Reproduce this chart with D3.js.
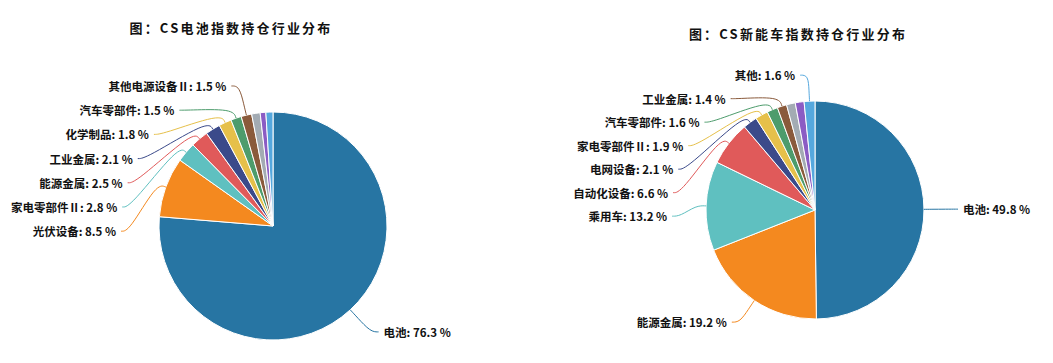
<!DOCTYPE html>
<html>
<head>
<meta charset="utf-8">
<script src="https://cdn.jsdelivr.net/npm/d3@7"></script>
<style>
  html, body { margin: 0; padding: 0; background: #fff; }
  svg { display: block; }
  text { font-family: "Noto Sans CJK SC", "Noto Sans", sans-serif; fill: #111; }
</style>
</head>
<body>
<svg id="chart" width="1053" height="363"></svg>
<script>
// Slice colours, in slice order (clockwise from 12 o'clock)
const sliceColors = ["#2775a3", "#f4891f", "#5fc0c0", "#e05a5a", "#3b4a8a", "#e6c04a",
                     "#4d9c6c", "#8a5a3b", "#a3abb3", "#8b5cc4", "#55a8de"];

// CS 电池指数 holdings by industry (%); null = small slice drawn without a label
const batteryTitle = "图：CS电池指数持仓行业分布";
const batteryNames = ["电池", "光伏设备", "家电零部件Ⅱ", "能源金属", "工业金属", "化学制品",
                      "汽车零部件", "其他电源设备Ⅱ", null, null, null];
const batteryValues = [76.3, 8.5, 2.8, 2.5, 2.1, 1.8, 1.5, 1.5, 1.2, 0.8, 1.0];

// CS 新能车指数 holdings by industry (%)
const nevTitle = "图：CS新能车指数持仓行业分布";
const nevNames = ["电池", "能源金属", "乘用车", "自动化设备", "电网设备", "家电零部件Ⅱ",
                  "汽车零部件", "工业金属", null, null, "其他"];
const nevValues = [49.8, 19.2, 13.2, 6.6, 2.1, 1.9, 1.6, 1.4, 1.3, 1.3, 1.6];

const svg = d3.select("#chart");

function drawPie(cfg) {
  const { title, names, values, cx, cy, r, len, len2, gap, titleX, titleY } = cfg;
  const g = svg.append("g");

  g.append("text")
    .attr("x", titleX).attr("y", titleY)
    .attr("text-anchor", "middle")
    .attr("dominant-baseline", "central")
    .style("font-size", "13px")
    .style("font-weight", "bold")
    .style("letter-spacing", "2.2px")
    .text(title);

  const data = values.map((v, i) => ({ name: names[i], value: v, color: sliceColors[i] }));
  const arcs = d3.pie().sort(null).value(d => d.value)(data);
  const arc = d3.arc().innerRadius(0).outerRadius(r);

  g.append("g")
    .attr("transform", `translate(${cx},${cy})`)
    .selectAll("path")
    .data(arcs)
    .join("path")
    .attr("d", arc)
    .attr("fill", d => d.data.color)
    .attr("stroke", "#fff")
    .attr("stroke-width", 1);

  // Outer labels: start at the end of a radial guide, then stack each side
  // downwards so labels keep at least `gap` px apart.
  const labels = arcs.filter(a => a.data.name).map(a => {
    const mid = (a.startAngle + a.endAngle) / 2;
    const ux = Math.sin(mid), uy = -Math.cos(mid);
    const dir = ux < 0 ? -1 : 1;
    const y1 = cy + (r + len) * uy;
    return {
      a, ux, uy, dir,
      x: cx + (r + len) * ux + dir * len2,
      y: y1, y0: y1
    };
  });

  [-1, 1].forEach(dir => {
    const side = labels.filter(l => l.dir === dir).sort((p, q) => p.y - q.y);
    let last = -Infinity;
    side.forEach(l => {
      if (l.y < last + gap) l.y = last + gap;
      last = l.y;
      if (l.y !== l.y0) {
        const dy = Math.abs(l.y - cy);
        const ra = r + len;
        if (dy < ra) l.x = cx + dir * (len2 + Math.sqrt(ra * ra - dy * dy));
      }
    });
  });

  const guide = d3.line().curve(d3.curveBasis);
  g.append("g").selectAll("path")
    .data(labels)
    .join("path")
    .attr("d", l => guide([
      [cx + r * l.ux, cy + r * l.uy],
      [cx + (r + 10) * l.ux, cy + (r + 10) * l.uy],
      [l.x - l.dir * len2, l.y],
      [l.x, l.y]
    ]))
    .attr("fill", "none")
    .attr("stroke", l => l.a.data.color)
    .attr("stroke-width", 1);

  g.append("g").selectAll("text")
    .data(labels)
    .join("text")
    .attr("x", l => l.x + l.dir * 5)
    .attr("y", l => l.y)
    .attr("text-anchor", l => l.dir < 0 ? "end" : "start")
    .attr("dominant-baseline", "central")
    .style("font-size", "11.5px")
    .style("font-weight", "bold")
    .text(l => `${l.a.data.name}: ${l.a.data.value.toFixed(1)} %`);
}

drawPie({
  title: batteryTitle, names: batteryNames, values: batteryValues,
  cx: 273, cy: 226, r: 114, len: 30, len2: 8, gap: 24.2,
  titleX: 231, titleY: 27
});

drawPie({
  title: nevTitle, names: nevNames, values: nevValues,
  cx: 815, cy: 210, r: 109, len: 26, len2: 8, gap: 23.5,
  titleX: 798, titleY: 33
});
</script>
</body>
</html>
